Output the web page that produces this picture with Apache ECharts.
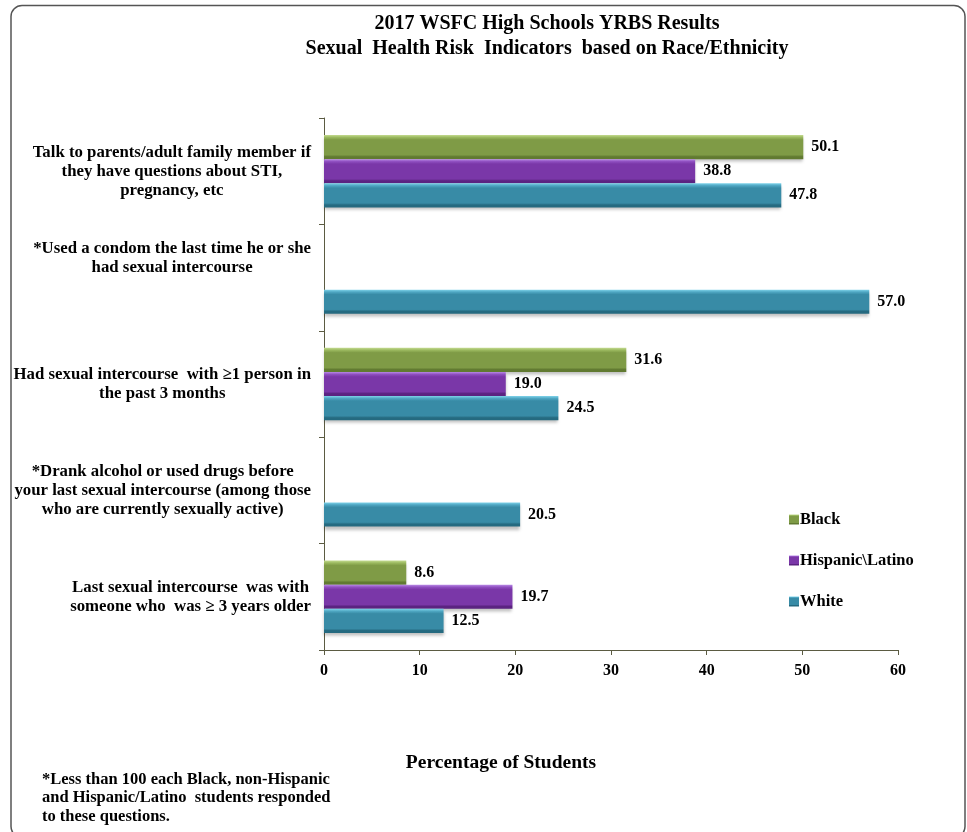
<!DOCTYPE html>
<html>
<head>
<meta charset="utf-8">
<script src="https://cdn.jsdelivr.net/npm/echarts@6/dist/echarts.min.js"></script>
<style>
  html, body { margin: 0; padding: 0; background: #fff; }
  #chart { width: 967px; height: 832px; }
</style>
</head>
<body>
<div id="chart"></div>
<script>
var categories = [
  "Talk to parents/adult family member if\nthey have questions about STI,\npregnancy, etc",
  "*Used a condom the last time he or she\nhad sexual intercourse",
  "Had sexual intercourse  with \u22651 person in\nthe past 3 months",
  "*Drank alcohol or used drugs before\nyour last sexual intercourse (among those\nwho are currently sexually active)",
  "Last sexual intercourse  was with\nsomeone who  was \u2265 3 years older"
];
var seriesNames = ["Black", "Hispanic\\Latino", "White"];
var blackValues = [50.1, null, 31.6, null, 8.6];
var hispanicValues = [38.8, null, 19.0, null, 19.7];
var whiteValues = [47.8, 57.0, 24.5, 20.5, 12.5];
var xTicks = { min: 0, max: 60, interval: 10 };
var titleLines = ["2017 WSFC High Schools YRBS Results", "Sexual  Health Risk  Indicators  based on Race/Ethnicity"];
var axisTitle = "Percentage of Students";
var footnote = "*Less than 100 each Black, non-Hispanic\nand Hispanic/Latino  students responded\nto these questions.";

var FONT = "'Liberation Serif', 'Times New Roman', serif";

function grad(light, mid, base, dark) {
  return new echarts.graphic.LinearGradient(0, 0, 0, 1, [
    { offset: 0, color: light },
    { offset: 0.1, color: mid },
    { offset: 0.2, color: base },
    { offset: 0.82, color: base },
    { offset: 0.9, color: dark },
    { offset: 1, color: dark }
  ]);
}
var colors = [
  grad('#c3da8f', '#9ab85e', '#7f9b46', '#617a31'),
  grad('#b98ae6', '#8f4fc0', '#7a37a8', '#5b2381'),
  grad('#7fd3ea', '#4ea6c2', '#388ba6', '#256a80')
];
var valueLists = [blackValues, hispanicValues, whiteValues];

var chart = echarts.init(document.getElementById('chart'), null, { renderer: 'canvas' });

var series = seriesNames.map(function (name, i) {
  return {
    name: name,
    type: 'bar',
    data: valueLists[i],
    barGap: '0%',
    barCategoryGap: '32%',
    itemStyle: {
      color: colors[i],
      shadowColor: 'rgba(0,0,0,0.25)',
      shadowBlur: 3,
      shadowOffsetY: 3
    },
    label: {
      show: true,
      position: 'right',
      distance: 8,
      color: '#000',
      fontFamily: FONT,
      fontWeight: 'bold',
      fontSize: 16,
      formatter: function (p) { return p.value == null ? '' : Number(p.value).toFixed(1); }
    }
  };
});

var option = {
  animation: false,
  backgroundColor: '#fff',
  title: [
    {
      text: titleLines.join('\n'),
      left: 542,
      top: 6,
      textAlign: 'center',
      textStyle: { fontFamily: FONT, fontWeight: 'bold', fontSize: 20, lineHeight: 25, color: '#000' }
    },
    {
      text: axisTitle,
      left: 496,
      top: 748,
      textAlign: 'center',
      textStyle: { fontFamily: FONT, fontWeight: 'bold', fontSize: 19.5, lineHeight: 20, color: '#000' }
    },
    {
      text: footnote,
      left: 37,
      top: 765,
      textStyle: { fontFamily: FONT, fontWeight: 'bold', fontSize: 16.5, lineHeight: 18.5, color: '#000' }
    }
  ],
  graphic: [
    {
      type: 'rect',
      shape: { x: 11, y: 5.5, width: 954, height: 832, r: 11 },
      style: { fill: 'none', stroke: '#555', lineWidth: 1.5 },
      silent: true,
      z: -1
    }
  ],
  legend: {
    orient: 'vertical',
    left: 784,
    top: 505,
    itemWidth: 10,
    itemHeight: 10,
    itemGap: 22,
    icon: 'rect',
    textStyle: { fontFamily: FONT, fontWeight: 'bold', fontSize: 16.5, lineHeight: 19, color: '#000', padding: [0, 0, 0, -4] },
    data: seriesNames
  },
  grid: { left: 324, right: 69, top: 118, bottom: 182, containLabel: false },
  xAxis: {
    type: 'value',
    min: xTicks.min,
    max: xTicks.max,
    interval: xTicks.interval,
    axisLine: { show: true, lineStyle: { color: '#5b5b42', width: 1 } },
    axisTick: { show: true, length: 5, lineStyle: { color: '#5b5b42' } },
    splitLine: { show: false },
    axisLabel: { margin: 13, color: '#000', fontFamily: FONT, fontWeight: 'bold', fontSize: 16 }
  },
  yAxis: {
    type: 'category',
    inverse: true,
    data: categories,
    axisLine: { show: true, lineStyle: { color: '#5b5b42', width: 1 } },
    axisTick: { show: true, length: 5, alignWithLabel: false, lineStyle: { color: '#5b5b42' } },
    axisLabel: {
      align: 'right',
      margin: 13,
      interval: 0,
      formatter: function (v, idx) {
        var lines = v.split('\n');
        if (idx === 1) { lines.push(' '); lines.push(' '); }
        return lines.map(function (l) { return '{c|' + l + '}'; }).join('\n');
      },
      rich: {
        c: { align: 'center', fontFamily: FONT, fontWeight: 'bold', fontSize: 16.8, lineHeight: 19, color: '#000' }
      }
    }
  },
  series: series
};
chart.setOption(option);
</script>
</body>
</html>
